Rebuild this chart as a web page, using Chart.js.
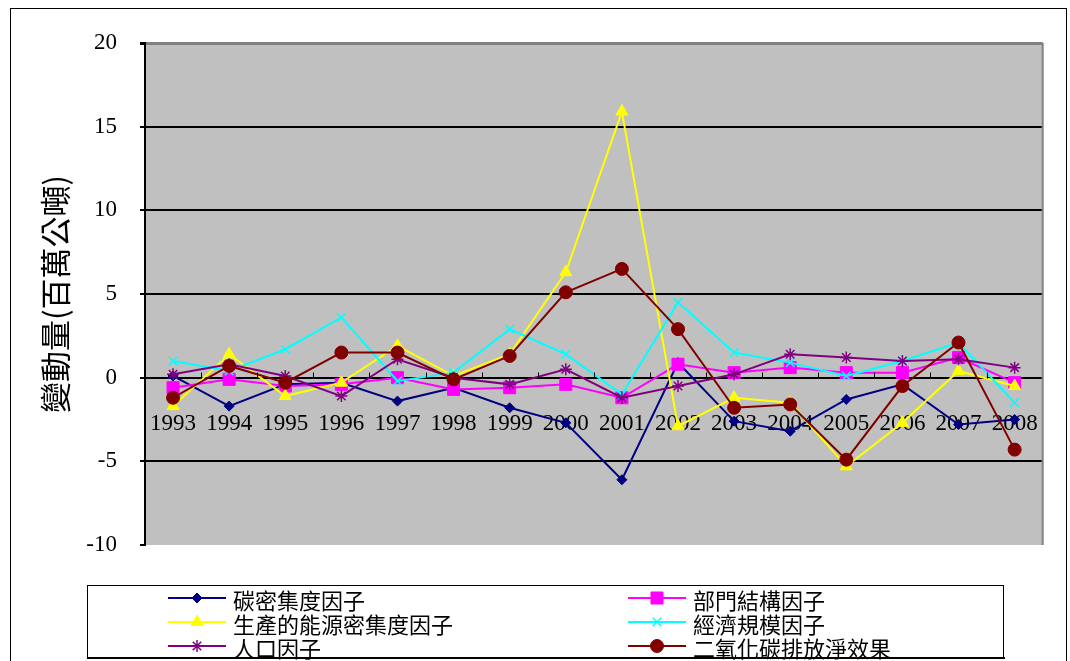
<!DOCTYPE html>
<html>
<head>
<meta charset="utf-8">
<script src="https://cdn.jsdelivr.net/npm/chart.js@4"></script>
<style>
  html, body { margin: 0; padding: 0; background: #fff; }
  #wrap { width: 1070px; height: 661px; }
</style>
</head>
<body>
<div id="wrap"><canvas id="chart" width="1070" height="661"></canvas></div>
<script>
const years = ['1993', '1994', '1995', '1996', '1997', '1998', '1999', '2000',
               '2001', '2002', '2003', '2004', '2005', '2006', '2007', '2008'];
const seriesNames = ['碳密集度因子', '部門結構因子', '生產的能源密集度因子',
                     '經濟規模因子', '人口因子', '二氧化碳排放淨效果'];
const carbonIntensity = [0.1, -1.7, -0.4, -0.3, -1.4, -0.6, -1.8, -2.7, -6.1, 0.9, -2.6, -3.2, -1.3, -0.4, -2.8, -2.5];
const sectorStructure = [-0.6, -0.1, -0.5, -0.4, 0.0, -0.7, -0.6, -0.4, -1.2, 0.8, 0.3, 0.6, 0.3, 0.3, 1.2, -0.3];
const energyIntensity = [-1.7, 1.4, -1.1, -0.3, 1.9, 0.1, 1.4, 6.3, 15.9, -2.9, -1.2, -1.5, -5.3, -2.7, 0.4, -0.5];
const economicScale = [1.0, 0.4, 1.7, 3.6, -0.2, 0.3, 2.9, 1.4, -1.0, 4.5, 1.5, 0.9, 0.1, 1.0, 2.1, -1.5];
const population = [0.2, 0.8, 0.1, -1.1, 1.1, 0.0, -0.4, 0.5, -1.2, -0.5, 0.2, 1.4, 1.2, 1.0, 1.1, 0.6];
const netEffect = [-1.2, 0.7, -0.3, 1.5, 1.5, -0.1, 1.3, 5.1, 6.5, 2.9, -1.8, -1.6, -4.9, -0.5, 2.1, -4.3];
const yTicks = [-10, -5, 0, 5, 10, 15, 20];

const seriesValues = [carbonIntensity, sectorStructure, energyIntensity, economicScale, population, netEffect];
const colors = ['#000080', '#FF00FF', '#FFFF00', '#00FFFF', '#800080', '#800000'];
const styles = ['rectRot', 'rect', 'triangle', 'crossRot', 'star', 'circle'];
const radii = [5, 8.5, 7, 6, 6, 6.5];

const datasets = seriesValues.map((vals, i) => ({
  label: seriesNames[i],
  data: vals,
  borderColor: colors[i],
  backgroundColor: colors[i],
  pointStyle: styles[i],
  pointRadius: radii[i],
  pointBorderWidth: (styles[i] === 'star' || styles[i] === 'crossRot') ? 1.5 : 1,
  borderWidth: 2,
  tension: 0,
  order: 6 - i
}));

// grey plot background, plot frame, category tick marks, outer border and legend
const frame = {
  id: 'frame',
  beforeDraw(chart) {
    const { ctx, chartArea: a } = chart;
    ctx.save();
    ctx.fillStyle = '#C0C0C0';
    ctx.fillRect(a.left, a.top, a.right - a.left, a.bottom - a.top);
    ctx.restore();
  },
  afterDraw(chart) {
    const { ctx, chartArea: a } = chart;
    const xs = chart.scales.x, ys = chart.scales.y;
    ctx.save();
    // right border of plot
    ctx.strokeStyle = '#808080';
    ctx.lineWidth = 2;
    ctx.beginPath();
    ctx.moveTo(a.right, a.top);
    ctx.lineTo(a.right, a.bottom);
    ctx.stroke();
    // category boundary ticks on the zero line
    const y0 = Math.round(ys.getPixelForValue(0)) + 0.5;
    const half = (xs.getPixelForTick(1) - xs.getPixelForTick(0)) / 2;
    ctx.strokeStyle = '#000';
    ctx.lineWidth = 1;
    ctx.beginPath();
    for (let i = 1; i < years.length; i++) {
      const x = Math.round(xs.getPixelForTick(i) - half) + 0.5;
      ctx.moveTo(x, y0);
      ctx.lineTo(x, y0 - 6);
    }
    ctx.stroke();
    // outer chart border
    ctx.strokeRect(10.5, 8.5, 1056, 700);

    // legend: 2 columns, 3 rows
    const colX = [168, 628];
    const rowY = [598, 622, 646];
    ctx.font = '22px "Noto Sans CJK TC"';
    ctx.textBaseline = 'middle';
    ctx.fillStyle = '#000';
    chart.data.datasets.forEach((ds, i) => {
      const x = colX[i % 2], y = rowY[Math.floor(i / 2)];
      ctx.strokeStyle = ds.borderColor;
      ctx.lineWidth = 2;
      ctx.beginPath();
      ctx.moveTo(x, y);
      ctx.lineTo(x + 58, y);
      ctx.stroke();
      ctx.fillStyle = ds.backgroundColor;
      ctx.lineWidth = ds.pointBorderWidth;
      Chart.helpers.drawPoint(ctx, { pointStyle: ds.pointStyle, radius: ds.pointRadius, rotation: 0, borderWidth: ds.pointBorderWidth }, x + 29, y);
      ctx.fillStyle = '#000';
      ctx.fillText(ds.label, x + 65, y + 3);
    });
    ctx.strokeStyle = '#000';
    ctx.lineWidth = 1;
    ctx.strokeRect(87.5, 585.5, 916, 72);
    ctx.lineWidth = 2;
    ctx.beginPath();
    ctx.moveTo(87, 658);
    ctx.lineTo(1005, 658);
    ctx.stroke();
    ctx.restore();
  }
};

new Chart(document.getElementById('chart'), {
  type: 'line',
  data: { labels: years, datasets: datasets },
  options: {
    responsive: false,
    animation: false,
    layout: { padding: { left: 0, top: 43, right: 12, bottom: 116 } },
    plugins: {
      legend: { display: false },
      tooltip: { enabled: false }
    },
    scales: {
      x: {
        position: { y: 0 },
        offset: true,
        grid: { display: false, drawTicks: false, offset: true },
        border: { display: true, color: '#000', width: 2 },
        ticks: {
          autoSkip: false,
          maxRotation: 0,
          padding: 32,
          color: '#000',
          font: { family: '"Liberation Serif"', size: 23 }
        }
      },
      y: {
        min: -10,
        max: 20,
        afterBuildTicks(scale) { scale.ticks = yTicks.map(v => ({ value: v })); },
        afterFit(scale) { scale.width = 145; },
        grid: {
          color: ctx => ctx.tick && ctx.tick.value === 20 ? '#808080' : (ctx.tick && ctx.tick.value === -10 ? 'rgba(0,0,0,0)' : '#000'),
          lineWidth: ctx => ctx.tick && ctx.tick.value === 20 ? 3 : 2,
          tickColor: '#000',
          tickLength: 5
        },
        border: { display: true, color: '#000', width: 2 },
        ticks: {
          padding: 23,
          color: '#000',
          font: { family: '"Liberation Serif"', size: 23 }
        },
        title: {
          display: true,
          text: '變動量(百萬公噸)',
          color: '#000',
          padding: { top: 37, bottom: 0 },
          font: { family: '"Noto Sans CJK TC"', size: 31 }
        }
      }
    }
  },
  plugins: [frame]
});
</script>
</body>
</html>
